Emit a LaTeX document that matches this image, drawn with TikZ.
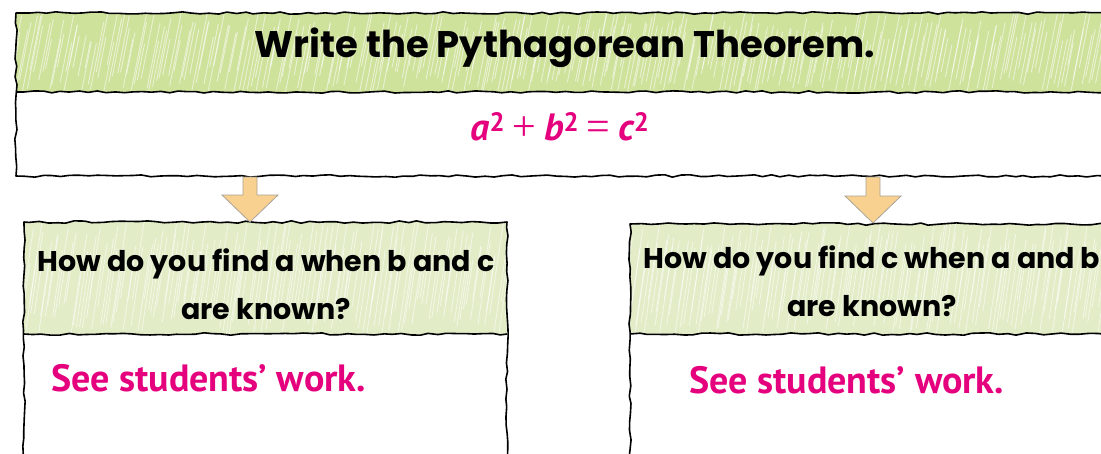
\documentclass[tikz,border=0pt]{standalone}
\usepackage{fontspec}
\usetikzlibrary{decorations.pathmorphing,calc}
\newfontfamily\hand{Poppins}
\newfontfamily\ans{PT Sans}
\newfontfamily\symf{Liberation Serif}
\definecolor{mag}{HTML}{E5007E}
\definecolor{hdrgreen}{HTML}{CFE29C}
\definecolor{hdrpale}{HTML}{E2ECC6}
\definecolor{arrfill}{HTML}{F8D08F}
\definecolor{arredge}{HTML}{A9A39A}
\tikzset{
  rough/.style={decorate, decoration={random steps, segment length=9pt, amplitude=1.2pt},
    line width=1.6pt, draw=black, line join=round},
  handtext/.style={font=\hand\bfseries\fontsize{37}{40}\selectfont, text=black},
  qtext/.style={font=\hand\bfseries\fontsize{28.5}{48}\selectfont, text=black, align=center},
  anstext/.style={font=\ans\bfseries\fontsize{38}{40}\selectfont, text=mag, anchor=west, inner sep=0pt},
  blockarrow/.style={fill=arrfill, draw=arredge, line width=0.8pt, line join=miter},
  hatch/.style={draw=white, line width=0.9pt, opacity=0.55}
}
\newcommand{\sqv}[1]{{\itshape #1}\textsuperscript{\upshape 2}}
\newcommand{\opr}[1]{\hspace{0.2em}{\symf\mdseries\upshape\fontsize{42}{42}\selectfont #1}\hspace{0.2em}}
\begin{document}
\begin{tikzpicture}[x=1pt,y=-1pt]
\useasboundingbox (0,0) rectangle (1101,453);
\fill[white] (0,0) rectangle (1101,453);
\clip (0,0) rectangle (1101,453);
\pgfmathsetseed{7}
% ---------- top box header hatching
\begin{scope}
  \clip (16,13) rectangle (1115,92);
  \fill[hdrgreen] (16,13) rectangle (1115,92);
  \foreach \i in {0,...,320} {
    \pgfmathsetmacro{\xx}{4+\i*3.6+rnd*3}
    \pgfmathsetmacro{\ya}{95-rnd*30}
    \pgfmathsetmacro{\yb}{10+rnd*35}
    \draw[hatch] (\xx,\ya) -- ({\xx+(\ya-\yb)*0.2},\yb);
  }
\end{scope}
% ---------- lower headers
\begin{scope}
  \clip (24,222) rectangle (507,334);
  \fill[hdrpale] (24,222) rectangle (507,334);
  \foreach \i in {0,...,150} {
    \pgfmathsetmacro{\xx}{10+\i*3.4+rnd*3}
    \pgfmathsetmacro{\ya}{338-rnd*40}
    \pgfmathsetmacro{\yb}{218+rnd*45}
    \draw[hatch] (\xx,\ya) -- ({\xx+(\ya-\yb)*0.15},\yb);
  }
\end{scope}
\begin{scope}
  \clip (630,224) rectangle (1115,334);
  \fill[hdrpale] (630,224) rectangle (1115,334);
  \foreach \i in {0,...,150} {
    \pgfmathsetmacro{\xx}{615+\i*3.4+rnd*3}
    \pgfmathsetmacro{\ya}{338-rnd*40}
    \pgfmathsetmacro{\yb}{220+rnd*45}
    \draw[hatch] (\xx,\ya) -- ({\xx+(\ya-\yb)*0.15},\yb);
  }
\end{scope}
% ---------- box outlines
\draw[rough] (16,13) rectangle (1118,176);
\draw[rough] (16,92) -- (1118,92);
\draw[rough] (24,222) rectangle (507,470);
\draw[rough] (24,334) -- (507,334);
\draw[rough] (630,224) rectangle (1118,470);
\draw[rough] (630,334) -- (1118,334);
% ---------- texts
\node[handtext] (title) at (565,48) {Write the Pythagorean Theorem.};
\node[font=\ans\bfseries\fontsize{38}{40}\selectfont, text=mag] (formula) at (560,127)
  {\sqv{a}\opr{+}\sqv{b}\opr{=}\sqv{c}};
\node[qtext] (q1) at (266,284) {How do you find a when b and c\\are known?};
\node[qtext] (q2) at (872,281) {How do you find c when a and b\\are known?};
\node[anstext] (a1) at (51,378) {See students’ work.};
\node[anstext] (a2) at (689,380) {See students’ work.};
% ---------- connectors (block arrows)
\coordinate (s1) at (250,177);
\coordinate (t1) at (250,222);
\coordinate (s2) at (873,177);
\coordinate (t2) at (873,223);
\foreach \s/\t in {s1/t1, s2/t2} {
  \draw[blockarrow] ($(\s)+(-7,0)$) -- ($(\s)+(7,0)$) -- ($(\t)+(7,-27)$) -- ($(\t)+(28,-27)$)
    -- (\t) -- ($(\t)+(-28,-27)$) -- ($(\t)+(-7,-27)$) -- cycle;
}
\end{tikzpicture}
\end{document}
